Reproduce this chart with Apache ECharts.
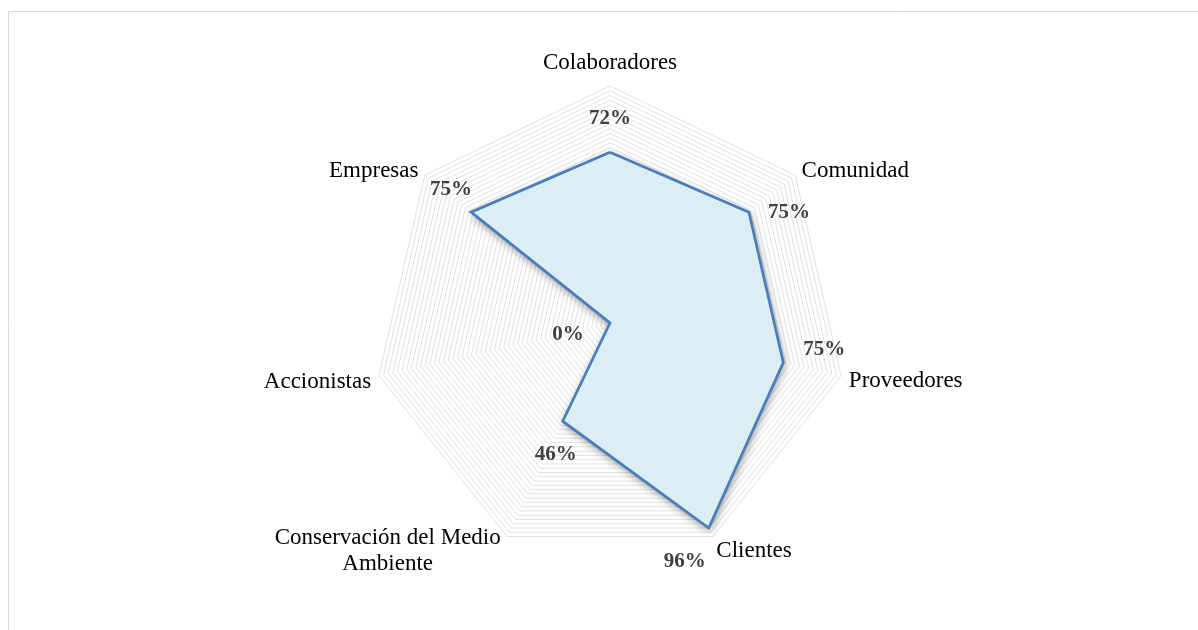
<!DOCTYPE html>
<html>
<head>
<meta charset="utf-8">
<script src="https://cdn.jsdelivr.net/npm/echarts@6/dist/echarts.min.js"></script>
<style>
  html, body { margin: 0; padding: 0; background: #ffffff; }
  #chart { width: 1198px; height: 630px; }
</style>
</head>
<body>
<div id="chart"></div>
<script>
// Indicators in ECharts order (counter-clockwise from the top)
const categories = ['Colaboradores', 'Empresas', 'Accionistas', 'Conservación del Medio\nAmbiente', 'Clientes', 'Proveedores', 'Comunidad'];
const values = [72, 75, 0, 46, 96, 75, 75];
const maxValue = 100;

// label placement (style only)
const labelOffsets = [[0, -34], [-20, -23], [-42, 12], [-7, 33], [-24, 34], [41, -13], [40, 0]];
// vertical nudges for indicator names (style only): [top, bottom] padding
const namePads = {
  'Colaboradores': [0, 0, 4, 0],
  'Accionistas': [8, 0, 0, 0],
  'Proveedores': [6, 0, 0, 0],
  'Clientes': [14, 0, 0, 0],
  'Comunidad': [2, 0, 0, 0],
  'Empresas': [2, 0, 0, 0]
};

const FONT = "'Liberation Serif', 'Times New Roman', serif";

const chart = echarts.init(document.getElementById('chart'), null, { renderer: 'canvas' });

const ringCount = 50;

const labelItems = values.map((v, k) => ({
  value: values.map((x, i) => (i === k ? x : '-')),
  label: {
    show: true,
    position: 'inside',
    offset: labelOffsets[k],
    formatter: p => (typeof p.value === 'number' ? p.value + '%' : ''),
    fontFamily: FONT,
    fontSize: 21,
    fontWeight: 'bold',
    color: '#404040'
  }
}));

const rich = {
  c: { width: 232, align: 'center', fontFamily: FONT, fontSize: 23, color: '#000000', lineHeight: 26, padding: [15, 0, 0, 0] }
};
const richKey = {};
Object.keys(namePads).forEach((n, i) => {
  const key = 'n' + i;
  richKey[n] = key;
  rich[key] = { fontFamily: FONT, fontSize: 23, color: '#000000', padding: namePads[n] };
});

const option = {
  backgroundColor: '#ffffff',
  animation: false,
  graphic: [{
    type: 'rect',
    shape: { x: 8.5, y: 11.5, width: 1400, height: 800 },
    style: { fill: 'none', stroke: '#d9d9d9', lineWidth: 1 },
    silent: true
  }],
  radar: {
    center: [610, 323],
    radius: 237,
    startAngle: 90,
    shape: 'polygon',
    splitNumber: ringCount,
    axisNameGap: 8,
    indicator: categories.map(n => ({ name: n, min: 0, max: maxValue })),
    axisName: {
      color: '#000000',
      fontFamily: FONT,
      fontSize: 23,
      formatter: function (name) {
        if (name.indexOf('\n') >= 0) {
          const lines = name.split('\n');
          return '{c|' + lines[0] + '}\n' + lines.slice(1).map(s => '{c|' + s + '}').join('\n');
        }
        if (richKey[name]) return '{' + richKey[name] + '|' + name + '}';
        return name;
      },
      rich: rich
    },
    axisLine: { show: false },
    axisTick: { show: false },
    axisLabel: { show: false },
    splitArea: { show: false },
    splitLine: { lineStyle: { color: '#e2e2e2', width: 1 } }
  },
  series: [
    {
      type: 'radar',
      symbol: 'none',
      z: 3,
      lineStyle: { width: 0, opacity: 0 },
      areaStyle: {
        color: '#dbeef4',
        opacity: 1,
        shadowColor: 'rgba(0,0,0,0.45)',
        shadowBlur: 8,
        shadowOffsetX: 1,
        shadowOffsetY: 3
      },
      data: [{ value: values, name: 'Área' }]
    },
    {
      type: 'radar',
      symbol: 'none',
      z: 4,
      lineStyle: { color: '#4a7ebb', width: 2.75, join: 'miter' },
      data: [{ value: values, name: 'Stakeholders' }]
    },
    {
      type: 'radar',
      z: 5,
      symbol: 'circle',
      symbolSize: 1,
      itemStyle: { color: 'rgba(0,0,0,0)' },
      lineStyle: { width: 0, opacity: 0 },
      silent: true,
      data: labelItems
    }
  ]
};

chart.setOption(option);
</script>
</body>
</html>
